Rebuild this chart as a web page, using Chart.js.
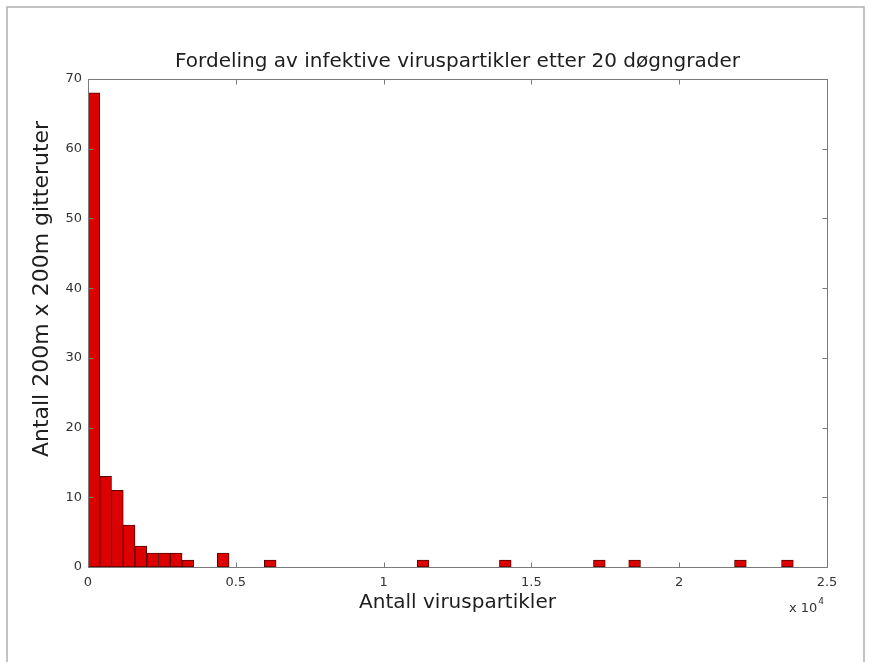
<!DOCTYPE html>
<html>
<head>
<meta charset="utf-8">
<script src="https://cdn.jsdelivr.net/npm/chart.js@4.4.1/dist/chart.umd.min.js"></script>
<style>
  html, body { margin: 0; padding: 0; background: #fff; }
  canvas { display: block; }
</style>
</head>
<body>
<canvas id="c" width="869" height="662" style="width:869px;height:662px"></canvas>
<script>
// Histogram of infective virus particles per grid cell: 60 equal bins from 0 to binMax
const binMax = 23860;
const counts = [
  68, 13, 11, 6, 3, 2, 2, 2, 1, 0,
   0,  2,  0, 0, 0, 1, 0, 0, 0, 0,
   0,  0,  0, 0, 0, 0, 0, 0, 1, 0,
   0,  0,  0, 0, 0, 1, 0, 0, 0, 0,
   0,  0,  0, 1, 0, 0, 1, 0, 0, 0,
   0,  0,  0, 0, 0, 1, 0, 0, 0, 1
];
const xTicks = [0, 5000, 10000, 15000, 20000, 25000];
const xTickLabels = ['0', '0.5', '1', '1.5', '2', '2.5'];
const yTicks = [0, 10, 20, 30, 40, 50, 60, 70];
const titleText = 'Fordeling av infektive viruspartikler etter 20 døgngrader';
const xLabel = 'Antall viruspartikler';
const yLabel = 'Antall 200m x 200m gitteruter';

const FONT = 'DejaVu Sans';
const binWidth = binMax / counts.length;
const points = counts.map((c, i) => ({ x: (i + 0.5) * binWidth, y: c }));
const filled = c => c.raw && c.raw.y > 0;

// Boxed axes with inward ticks on all four sides, page frame, rotated y label and exponent
const boxedAxes = {
  id: 'boxedAxes',
  beforeDraw(chart) {
    const ctx = chart.ctx;
    ctx.save();
    ctx.fillStyle = '#fff';
    ctx.fillRect(0, 0, chart.width, chart.height);
    ctx.strokeStyle = '#b0b0b0';
    ctx.lineWidth = 1.5;
    ctx.beginPath();
    ctx.moveTo(7, chart.height + 2);
    ctx.lineTo(7, 7);
    ctx.lineTo(864, 7);
    ctx.lineTo(864, chart.height + 2);
    ctx.stroke();
    ctx.restore();
  },
  afterDatasetsDraw(chart) {
    const { ctx, chartArea: a, scales: { x, y } } = chart;
    const L = Math.round(a.left) + 0.5, R = Math.round(a.right) + 0.5;
    const T = Math.round(a.top) + 0.5, B = Math.round(a.bottom) + 0.5;
    const len = 5;
    ctx.save();
    ctx.strokeStyle = '#7a7a7a';
    ctx.lineWidth = 1;
    ctx.beginPath();
    ctx.rect(L, T, R - L, B - T);
    xTicks.forEach(v => {
      const px = Math.round(x.getPixelForValue(v)) + 0.5;
      ctx.moveTo(px, B); ctx.lineTo(px, B - len);
      ctx.moveTo(px, T); ctx.lineTo(px, T + len);
    });
    yTicks.forEach(v => {
      const py = Math.round(y.getPixelForValue(v)) + 0.5;
      ctx.moveTo(L, py); ctx.lineTo(L + len, py);
      ctx.moveTo(R, py); ctx.lineTo(R - len, py);
    });
    ctx.stroke();
    ctx.restore();
  },
  afterDraw(chart) {
    const ctx = chart.ctx;
    ctx.save();
    // y axis label
    ctx.fillStyle = '#1e1e1e';
    ctx.font = '22px "' + FONT + '"';
    ctx.textAlign = 'center';
    ctx.textBaseline = 'middle';
    ctx.translate(42, 289);
    ctx.rotate(-Math.PI / 2);
    ctx.fillText(yLabel, 0, 0);
    ctx.restore();
    // x axis exponent
    ctx.save();
    ctx.fillStyle = '#333';
    ctx.textBaseline = 'alphabetic';
    ctx.textAlign = 'left';
    ctx.font = '13px "' + FONT + '"';
    ctx.fillText('x 10', 789, 612);
    const w = ctx.measureText('x 10').width;
    ctx.font = '9px "' + FONT + '"';
    ctx.fillText('4', 789 + w + 1, 604);
    ctx.restore();
  }
};

new Chart(document.getElementById('c'), {
  type: 'bar',
  data: {
    datasets: [{
      data: points,
      backgroundColor: c => filled(c) ? '#dd0000' : 'rgba(0,0,0,0)',
      borderColor: '#5a0000',
      borderWidth: c => filled(c) ? 1 : 0,
      borderSkipped: false,
      barPercentage: 1,
      categoryPercentage: 1
    }]
  },
  options: {
    responsive: false,
    animation: false,
    devicePixelRatio: 1,
    layout: { padding: { left: 0, right: 42, top: 0, bottom: 0 } },
    plugins: {
      legend: { display: false },
      tooltip: { enabled: false },
      title: {
        display: true,
        text: titleText,
        fullSize: false,
        color: '#1e1e1e',
        font: { family: FONT, size: 20, weight: 'normal', lineHeight: 1.2 },
        padding: { top: 50, bottom: 5 }
      }
    },
    scales: {
      x: {
        type: 'linear',
        min: 0,
        max: 25000,
        offset: false,
        grid: { display: false, drawTicks: false },
        border: { display: false },
        ticks: {
          stepSize: 5000,
          autoSkip: false,
          maxRotation: 0,
          padding: 8,
          color: '#333',
          font: { family: FONT, size: 13 },
          callback: v => {
            const i = xTicks.indexOf(v);
            return i >= 0 ? xTickLabels[i] : '';
          }
        },
        title: {
          display: true,
          text: xLabel,
          color: '#1e1e1e',
          font: { family: FONT, size: 20, lineHeight: 1.2 },
          padding: { top: 0, bottom: 47 }
        },
        afterFit(s) { s.height = 95; }
      },
      y: {
        min: 0,
        max: 70,
        grid: { display: false, drawTicks: false },
        border: { display: false },
        ticks: {
          stepSize: 10,
          padding: 6,
          color: '#333',
          font: { family: FONT, size: 13 }
        },
        afterFit(s) { s.width = 88; }
      }
    }
  },
  plugins: [boxedAxes]
});
</script>
</body>
</html>
